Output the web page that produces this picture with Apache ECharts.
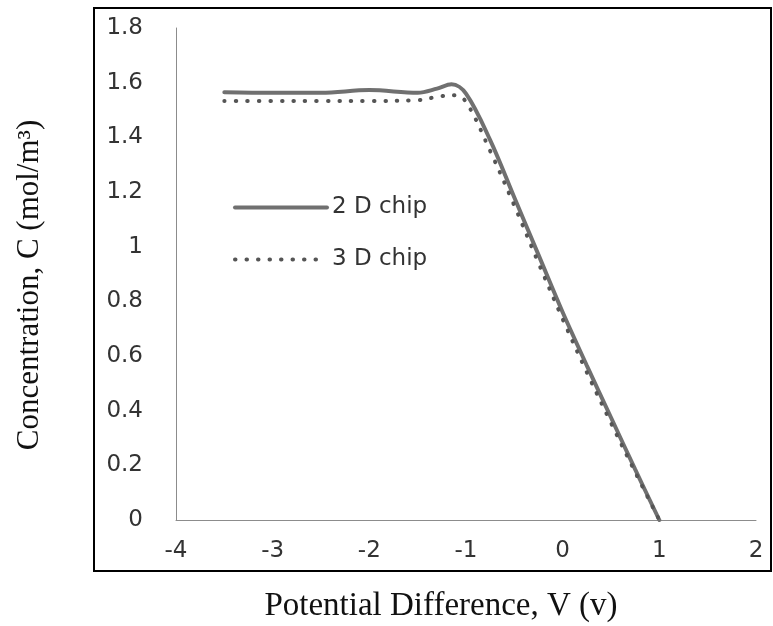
<!DOCTYPE html>
<html>
<head>
<meta charset="utf-8">
<script src="https://cdn.jsdelivr.net/npm/echarts@6/dist/echarts.min.js"></script>
<style>
  html, body { margin: 0; padding: 0; background: #fff; }
  #chartLine { width: 773px; height: 626px; }
</style>
</head>
<body>
<div id="chartLine"></div>
<script>
// values
const voltage2D = [-3.5, -3, -2.5, -2, -1.5, -1.3, -1.15, -1, -0.75, -0.5, -0.25, 0, 0.25, 0.5, 0.75, 1]
const conc2D = [1.565, 1.563, 1.563, 1.573, 1.563, 1.578, 1.594, 1.56, 1.39, 1.18, 0.97, 0.76, 0.565, 0.375, 0.185, 0]
const voltage3D = [-3.5, -3, -2.5, -2, -1.5, -1.27, -1.12, -1, -0.75, -0.5, -0.25, 0, 0.25, 0.5, 0.75, 1]
const conc3D = [1.533, 1.533, 1.533, 1.533, 1.536, 1.55, 1.554, 1.53, 1.35, 1.15, 0.94, 0.735, 0.54, 0.355, 0.175, 0]
const xTicks = ['-4', '-3', '-2', '-1', '0', '1', '2']
const yTicks = ['0', '0.2', '0.4', '0.6', '0.8', '1', '1.2', '1.4', '1.6', '1.8']

const toPairs = (xs, ys) => xs.map((x, i) => [x, ys[i]])

const chartDom = document.getElementById('chartLine');
const myChart = echarts.init(chartDom);
let option = {}
option = {
  animation: false,
  backgroundColor: '#fff',
  grid: {
    left: 176,
    right: 17,
    top: 28,
    bottom: 106
  },
  legend: {
    orient: 'vertical',
    left: 228,
    top: 191,
    itemWidth: 92,
    itemHeight: 14,
    itemGap: 29,
    itemStyle: { opacity: 0 },
    lineStyle: { width: 4 },
    textStyle: {
      fontFamily: 'DejaVu Sans',
      fontSize: 23,
      lineHeight: 22,
      color: '#333'
    },
    data: ['2 D chip', '3 D chip']
  },
  xAxis: {
    type: 'value',
    min: -4,
    max: 2,
    interval: 1,
    splitLine: { show: false },
    axisTick: { show: false },
    axisLine: { onZero: false, lineStyle: { color: '#8c8c8c', width: 1 } },
    axisLabel: {
      margin: 20,
      fontFamily: 'DejaVu Sans',
      fontSize: 23,
      color: '#333',
      formatter: (v) => xTicks[Math.round(v + 4)]
    }
  },
  yAxis: {
    type: 'value',
    min: 0,
    max: 1.8,
    interval: 0.2,
    splitLine: { show: false },
    axisTick: { show: false },
    axisLine: { show: true, onZero: false, lineStyle: { color: '#8c8c8c', width: 1 } },
    axisLabel: {
      margin: 33,
      fontFamily: 'DejaVu Sans',
      fontSize: 23,
      color: '#333',
      formatter: (v) => yTicks[Math.round(v / 0.2)]
    }
  },
  graphic: [
    {
      type: 'rect',
      shape: { x: 94, y: 8, width: 677, height: 563 },
      style: { fill: 'none', stroke: '#000', lineWidth: 2 }
    },
    {
      type: 'text',
      x: 30,
      y: 285,
      rotation: Math.PI / 2,
      style: {
        text: 'Concentration, C (mol/m³)',
        font: '31px "Liberation Serif"',
        fill: '#111',
        align: 'center',
        verticalAlign: 'middle'
      }
    },
    {
      type: 'text',
      x: 441,
      y: 606,
      style: {
        text: 'Potential Difference, V (v)',
        font: '33px "Liberation Serif"',
        fill: '#111',
        align: 'center',
        verticalAlign: 'middle'
      }
    }
  ],
  series: [
    {
      name: '2 D chip',
      type: 'line',
      smooth: 0.35,
      showSymbol: false,
      symbol: 'none',
      data: toPairs(voltage2D, conc2D),
      color: '#707070',
      lineStyle: { width: 4, color: '#707070', cap: 'round' }
    },
    {
      name: '3 D chip',
      type: 'line',
      smooth: 0.35,
      showSymbol: false,
      symbol: 'none',
      data: toPairs(voltage3D, conc3D),
      color: '#555',
      lineStyle: { width: 4, color: '#555', type: [0.5, 11], cap: 'round' }
    }
  ]
};
option && myChart.setOption(option);
</script>
</body>
</html>
